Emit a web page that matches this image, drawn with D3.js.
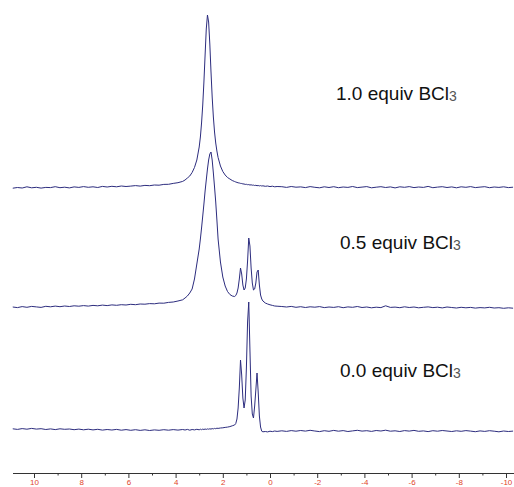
<!DOCTYPE html>
<html>
<head>
<meta charset="utf-8">
<script src="https://cdn.jsdelivr.net/npm/d3@7"></script>
<style>
body { margin: 0; background: #fff; }
svg { display: block; }
.xaxis text { font-family: "Liberation Sans", Arial, sans-serif; font-size: 8px; fill: #e0442a; }
.xaxis line, .xaxis path { stroke: #333; }
.trace { fill: none; stroke: #2c2c7e; stroke-width: 1; }
.label { font-family: "Liberation Sans", Arial, sans-serif; font-size: 19px; fill: #111; }
.label tspan.sub { font-size: 14px; fill: #555; }
</style>
</head>
<body>
<div id="chart"></div>
<script>

// chemical shift grid (ppm), shared by the three spectra
var shift = [
    // left baseline
    10.9, 10.7, 10.5, 10.3, 10.1, 9.9, 9.7, 9.5, 9.3, 9.1,
    8.9, 8.7, 8.5, 8.3, 8.1, 7.9, 7.7, 7.5, 7.3, 7.1,
    6.9, 6.7, 6.5, 6.3, 6.1, 5.9, 5.7, 5.5, 5.3, 5.1,
    4.9, 4.7, 4.5, 4.3, 4.1, 3.9, 3.7,
    // peak region
    3.6, 3.5, 3.4, 3.3, 3.2, 3.1, 3.0, 2.95, 2.9, 2.85,
    2.8, 2.75, 2.7, 2.65, 2.6, 2.55, 2.5, 2.45, 2.4, 2.35,
    2.3, 2.25, 2.2, 2.1, 2.0, 1.9, 1.8, 1.7, 1.6, 1.5,
    1.45, 1.4, 1.35, 1.3, 1.25, 1.2, 1.15, 1.1, 1.05, 1.0,
    0.95, 0.9, 0.85, 0.8, 0.75, 0.7, 0.65, 0.6, 0.55, 0.5,
    0.45, 0.4, 0.35, 0.3, 0.2, 0.1, 0.0, -0.1, -0.2, -0.3,
    // right baseline
    -0.5, -0.7, -0.9, -1.1, -1.3, -1.5, -1.7, -1.9, -2.1, -2.3,
    -2.5, -2.7, -2.9, -3.1, -3.3, -3.5, -3.7, -3.9, -4.1, -4.3,
    -4.5, -4.7, -4.9, -5.1, -5.3, -5.5, -5.7, -5.9, -6.1, -6.3,
    -6.5, -6.7, -6.9, -7.1, -7.3, -7.5, -7.7, -7.9, -8.1, -8.3,
    -8.5, -8.7, -8.9, -9.1, -9.3, -9.5, -9.7, -9.9, -10.1, -10.3
];

// intensity above each trace's own baseline, 1.0 equiv BCl3
var spec10 = [
    -1.2, -0.5, -1.0, 0.2, -0.8, -0.3, -1.1, -0.4, -0.6, 0.3,
    -0.7, -0.2, -0.9, 0.1, -0.4, 0.4, -0.3, 0.2, -0.5, 0.6,
    0.0, 0.7, 0.2, 1.0, 0.5, 0.9, 1.4, 0.9, 1.6, 1.3,
    2.0, 1.8, 2.6, 2.7, 3.6, 4.3, 5.6,
    7.0, 9.0, 11.0, 14.5, 19.5, 27, 40, 50, 64, 82,
    105, 132, 158, 172, 165, 143, 115, 90, 70, 55,
    44, 36, 29.5, 21, 15.5, 12, 9.5, 8, 6.5, 5.5,
    5.0, 4.6, 4.2, 4.0, 3.6, 3.5, 3.1, 3.0, 2.6, 2.7,
    2.3, 2.4, 2.0, 2.2, 1.8, 1.9, 1.5, 1.7, 1.3, 1.5,
    1.1, 1.4, 1.0, 1.2, 0.7, 1.0, 0.4, 0.8, 0.2, 0.5,
    0.3, -0.4, 0.5, -0.2, 0.1, -0.6, 0.4, -0.3, -0.8, 0.2,
    -0.5, 0.3, -0.7, 0.0, -0.4, 0.5, -0.6, -0.1, 0.4, -0.8,
    -0.2, 0.3, -0.5, 0.1, -0.9, 0.2, -0.3, 0.4, -0.6, 0.0,
    -0.4, 0.6, -0.7, -0.1, 0.3, -0.5, 0.1, -0.8, 0.2, -0.3,
    0.4, -0.6, -0.1, 0.3, -0.7, 0.0, -0.4, 0.2, -0.6, -0.2
];

// 0.5 equiv BCl3
var spec05 = [
    0.0, -0.6, 0.4, -0.3, 0.6, 0.1, -0.4, 0.7, 0.2, 0.9,
    0.3, 1.0, 0.5, 1.2, 0.8, 1.4, 0.9, 1.6, 1.2, 1.9,
    1.4, 2.1, 1.7, 2.3, 2.0, 2.7, 2.3, 3.0, 2.8, 3.4,
    3.2, 3.9, 3.8, 4.6, 5.0, 6.0, 7.2,
    9, 11, 14, 18, 28, 43, 58, 68, 79, 91,
    103, 116, 127, 138, 147, 153, 155, 147, 134, 120,
    105, 87, 68, 45, 30, 21, 15.5, 12.5, 11, 10.5,
    11.5, 14, 19, 28, 39, 33, 22, 17, 19, 28,
    46, 69, 61, 39, 24, 17, 18, 24, 35, 37,
    22, 12, 8, 6, 4, 3, 2.2, 1.6, 1.0, 0.8,
    0.5, 0.0, 0.6, -0.3, 0.3, -0.5, 0.2, -0.2, 0.4, -0.6,
    0.0, -0.4, 0.3, -0.7, 0.1, -0.3, 0.5, -0.5, 0.0, -0.8,
    -0.2, -0.6, 1.2, -0.4, -0.1, -0.7, 0.2, -0.5, 0.0, -0.8,
    -0.3, 0.1, -0.6, -0.2, -0.9, 0.0, -0.5, -1.0, -0.3, -0.8,
    -0.4, -1.1, -0.6, -0.9, -0.3, -1.0, -0.7, -1.3, -0.8, -1.2
];

// 0.0 equiv BCl3
var spec00 = [
    1.2, 0.6, 1.4, 0.8, 1.6, 0.9, 1.3, 0.5, 1.1, 0.4,
    1.2, 0.7, 1.0, 0.3, 0.9, 0.2, 0.8, 0.1, 0.7, -0.1,
    0.5, 0.0, 0.6, -0.2, 0.4, -0.3, 0.3, -0.4, 0.2, -0.5,
    0.1, -0.3, 0.3, -0.2, 0.4, -0.1, 0.5,
    0.0, 0.6, -0.2, 0.5, 0.1, 0.7, 0.2, 0.8, 0.3, 0.9,
    0.5, 1.0, 0.6, 1.1, 0.8, 1.2, 0.9, 1.4, 1.1, 1.6,
    1.3, 1.8, 1.6, 2.0, 2.2, 2.6, 2.9, 3.4, 4.2, 5.0,
    6.5, 11, 22, 42, 70, 55, 32, 22, 30, 62,
    108, 128, 80, 34, 16, 12, 24, 40, 57, 38,
    14, 3, -1.2, -1.8, -1.5, -1.9, -1.2, -1.6, -1.0, -1.4,
    -0.8, -1.4, -0.6, -1.2, -0.5, -1.1, -0.3, -1.0, -1.6, -0.7,
    -1.3, -0.4, -1.2, -0.6, -1.5, -0.9, -0.3, -1.1, -0.7, -1.4,
    -0.5, -1.0, -0.2, -1.2, -0.8, -1.5, -0.6, -1.1, -0.4, -1.3,
    -0.9, -1.6, -0.7, -1.2, -0.5, -1.0, -1.5, -0.8, -1.3, -0.6,
    -1.1, -1.7, -0.9, -1.4, -0.7, -1.2, -1.8, -1.0, -1.5, -1.1
];

var spectra = [spec10, spec05, spec00];
var labels = ["1.0 equiv BCl", "0.5 equiv BCl", "0.0 equiv BCl"];
var labelSub = "3";
var majorTicks = [10, 8, 6, 4, 2, 0, -2, -4, -6, -8, -10];
var minorTicks = [9, 7, 5, 3, 1, -1, -3, -5, -7, -9];


// layout settings
var nmr = {
    w: 514,
    h: 487,
    xdomain: [10, -10],
    xrange: [34, 506],
    ydomain: [0, 460],
    yrange: [473, 13],
    axisy: 473,
    axisline: [13, 514], // extent of the axis line
    stack: [286, 166, 43], // vertical offset of each trace
    labelx: [336, 340, 340],
    labely: [100, 249, 377]
};

spectra.forEach(function (s, i) {
    if (s.length !== shift.length) {
        console.error("spectrum " + i + " has " + s.length + " points, expected " + shift.length);
    }
});

var svg = d3.select("#chart").append("svg")
        .attr("width", nmr.w).attr("height", nmr.h);

var xscale = d3.scaleLinear().domain(nmr.xdomain).range(nmr.xrange);
var yscale = d3.scaleLinear().domain(nmr.ydomain).range(nmr.yrange);

// x axis, major ticks with labels
var xaxis = d3.axisBottom(xscale).tickValues(majorTicks)
        .tickSize(5).tickPadding(1.5)
        .tickFormat(function (d) { return String(d); });
var gg = svg.append("g").attr("class", "xaxis")
        .attr("transform", "translate(0," + nmr.axisy + ")").call(xaxis);
gg.selectAll("path.domain")
        .attr("d", "M" + nmr.axisline[0] + ",0.5H" + nmr.axisline[1]);
gg.selectAll(".tick line").attr("stroke", "#777");

// minor ticks
var xminor = d3.axisBottom(xscale).tickValues(minorTicks)
        .tickSize(2.5).tickFormat("");
var gm = svg.append("g").attr("class", "xaxis minor")
        .attr("transform", "translate(0," + nmr.axisy + ")").call(xminor);
gm.select("path.domain").remove();

// spectra
spectra.forEach(function (s, i) {
    var pts = shift.map(function (p, j) { return [p, s[j]]; });
    var line = d3.line()
            .x(function (d) { return xscale(d[0]); })
            .y(function (d) { return yscale(d[1] + nmr.stack[i]); });
    svg.append("path").attr("class", "trace").attr("d", line(pts));
});

// labels
labels.forEach(function (t, i) {
    var txt = svg.append("text").attr("class", "label")
            .attr("x", nmr.labelx[i]).attr("y", nmr.labely[i]);
    txt.append("tspan").text(t);
    txt.append("tspan").attr("class", "sub").attr("dy", 1).text(labelSub);
});

</script>
</body>
</html>
